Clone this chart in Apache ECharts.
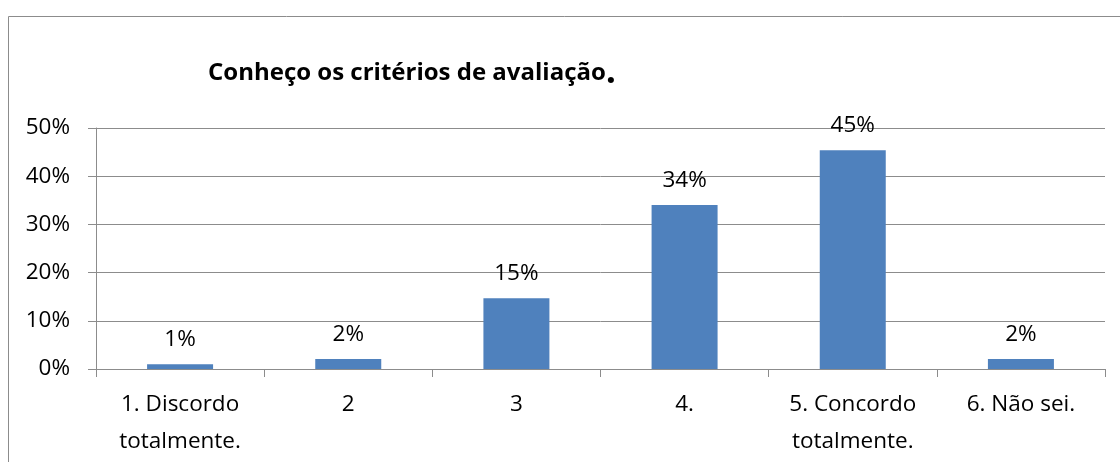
<!DOCTYPE html>
<html>
<head>
<meta charset="utf-8">
<script src="https://cdn.jsdelivr.net/npm/echarts@6/dist/echarts.min.js"></script>
<style>html,body{margin:0;padding:0;background:#fff;}#c{width:1120px;height:462px;}</style>
</head>
<body>
<div id="c"></div>
<script>
const titleText = 'Conheço os critérios de avaliação';
const categories = ['1. Discordo\ntotalmente.', '2', '3', '4.', '5. Concordo\ntotalmente.', '6. Não sei.'];
const values = [1.0, 2.1, 14.7, 34.0, 45.4, 2.1];
const yTicks = [0, 10, 20, 30, 40, 50];

const FONT = 'Open Sans';
const chart = echarts.init(document.getElementById('c'));
chart.setOption({
  animation: false,
  backgroundColor: '#fff',
  title: {
    text: '{t|' + titleText + '}{p|.}',
    left: 203, top: 50,
    textStyle: {
      rich: {
        t: { fontFamily: FONT, fontWeight: 'bold', fontSize: 24, color: '#000' },
        p: { fontFamily: FONT, fontWeight: 'bold', fontSize: 36, color: '#000' }
      }
    }
  },
  graphic: [{
    type: 'polyline', silent: true,
    shape: { points: [[8.5, 462], [8.5, 16.5], [1120, 16.5]] },
    style: { stroke: '#8c8c8c', lineWidth: 1, fill: null }
  }],
  grid: { left: 96, right: 15, top: 128, bottom: 93 },
  xAxis: {
    type: 'category', data: categories, boundaryGap: true,
    axisLine: { lineStyle: { color: '#8c8c8c', width: 1 } },
    axisTick: { show: true, length: 8, lineStyle: { color: '#8c8c8c' } },
    axisLabel: { interval: 0, margin: 17, fontFamily: FONT, fontSize: 22.5, color: '#000', lineHeight: 37 }
  },
  yAxis: {
    type: 'value', min: 0, max: 50, interval: 10,
    axisLine: { show: true, lineStyle: { color: '#8c8c8c', width: 1 } },
    axisTick: { show: true, length: 8, lineStyle: { color: '#8c8c8c' } },
    splitLine: { lineStyle: { color: '#8c8c8c', width: 1 } },
    axisLabel: {
      margin: 26, fontFamily: FONT, fontSize: 22.5, color: '#000',
      formatter: v => yTicks.includes(v) ? v + '%' : ''
    }
  },
  series: [{
    type: 'bar', data: values, barWidth: 66,
    itemStyle: { color: '#4f81bd' },
    label: {
      show: true, position: 'top', distance: 13,
      fontFamily: FONT, fontSize: 22.5, color: '#000',
      formatter: p => Math.round(p.value) + '%'
    }
  }]
});
</script>
</body>
</html>
